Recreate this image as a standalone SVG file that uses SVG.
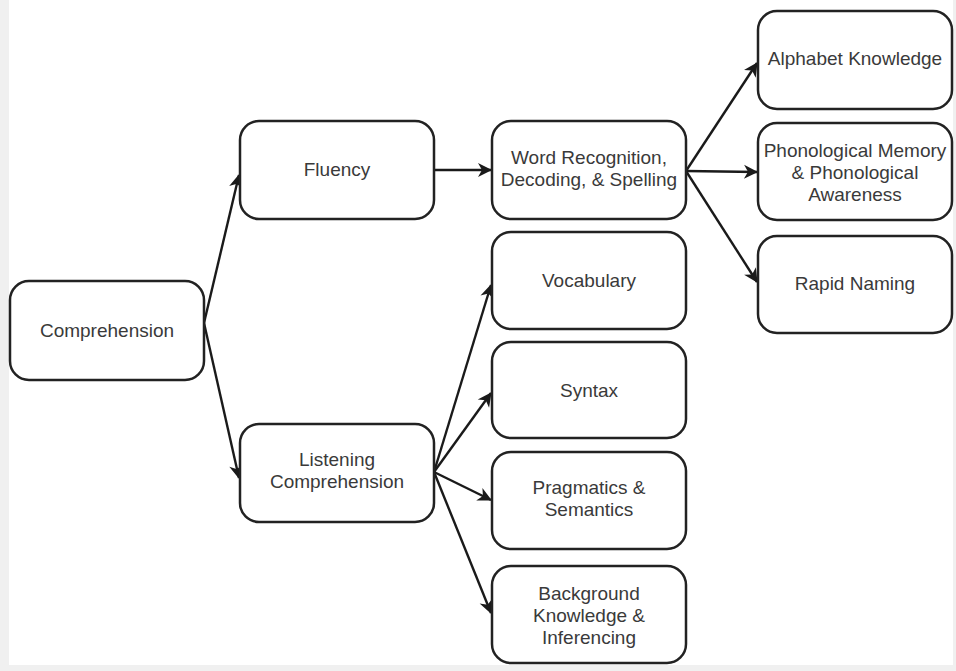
<svg xmlns="http://www.w3.org/2000/svg" width="956" height="671" viewBox="0 0 956 671">
  <defs>
    <marker id="arr" markerUnits="userSpaceOnUse" markerWidth="20" markerHeight="20" viewBox="-16 -10 20 20" refX="0" refY="0" orient="auto">
      <path d="M1,0 L-13,-7 L-9,0 L-13,7 Z" fill="#1a1a1a"/>
    </marker>
  </defs>
  <style>
    .box { fill: #ffffff; stroke: #222222; stroke-width: 2.5; }
    .lbl { font-family: "Liberation Sans", Arial, sans-serif; font-size: 19px; fill: #3a3a3a; text-anchor: middle; }
    .conn path { fill: none; stroke: #1a1a1a; stroke-width: 2.4; marker-end: url(#arr); }
  </style>
  <rect x="0" y="0" width="956" height="671" fill="#f0f0f0"/>
  <rect x="9" y="0" width="944" height="665" fill="#ffffff"/>

  <g id="connectors" class="conn">
    <path d="M204,323 L239,175"/>
    <path d="M204,323 L239,478"/>
    <path d="M434,170 L491,170"/>
    <path d="M686,171 L757,63"/>
    <path d="M686,171 L757,172"/>
    <path d="M686,171 L757,282"/>
    <path d="M434,472 L491,285"/>
    <path d="M434,472 L491,393"/>
    <path d="M434,472 L491,500"/>
    <path d="M434,472 L491,613"/>
  </g>

  <g id="comprehension">
    <rect class="box" x="10" y="281" width="194" height="99" rx="19"/>
    <text class="lbl" x="107" y="337">Comprehension</text>
  </g>
  <g id="fluency">
    <rect class="box" x="240" y="121" width="194" height="98" rx="19"/>
    <text class="lbl" x="337" y="176">Fluency</text>
  </g>
  <g id="listening">
    <rect class="box" x="240" y="424" width="194" height="98" rx="19"/>
    <text class="lbl" x="337" y="466">Listening</text>
    <text class="lbl" x="337" y="488">Comprehension</text>
  </g>
  <g id="wordrec">
    <rect class="box" x="492" y="121" width="194" height="98" rx="19"/>
    <text class="lbl" x="589" y="164">Word Recognition,</text>
    <text class="lbl" x="589" y="186">Decoding, &amp; Spelling</text>
  </g>
  <g id="vocabulary">
    <rect class="box" x="492" y="232" width="194" height="97" rx="19"/>
    <text class="lbl" x="589" y="287">Vocabulary</text>
  </g>
  <g id="syntax">
    <rect class="box" x="492" y="342" width="194" height="96" rx="19"/>
    <text class="lbl" x="589" y="397">Syntax</text>
  </g>
  <g id="pragmatics">
    <rect class="box" x="492" y="452" width="194" height="97" rx="19"/>
    <text class="lbl" x="589" y="494">Pragmatics &amp;</text>
    <text class="lbl" x="589" y="516">Semantics</text>
  </g>
  <g id="background">
    <rect class="box" x="492" y="566" width="194" height="97" rx="19"/>
    <text class="lbl" x="589" y="600">Background</text>
    <text class="lbl" x="589" y="622">Knowledge &amp;</text>
    <text class="lbl" x="589" y="644">Inferencing</text>
  </g>
  <g id="alphabet">
    <rect class="box" x="758" y="11" width="194" height="98" rx="19"/>
    <text class="lbl" x="855" y="65">Alphabet Knowledge</text>
  </g>
  <g id="phonological">
    <rect class="box" x="758" y="123" width="194" height="97" rx="19"/>
    <text class="lbl" x="855" y="157">Phonological Memory</text>
    <text class="lbl" x="855" y="179">&amp; Phonological</text>
    <text class="lbl" x="855" y="201">Awareness</text>
  </g>
  <g id="rapid">
    <rect class="box" x="758" y="236" width="194" height="97" rx="19"/>
    <text class="lbl" x="855" y="290">Rapid Naming</text>
  </g>
</svg>
